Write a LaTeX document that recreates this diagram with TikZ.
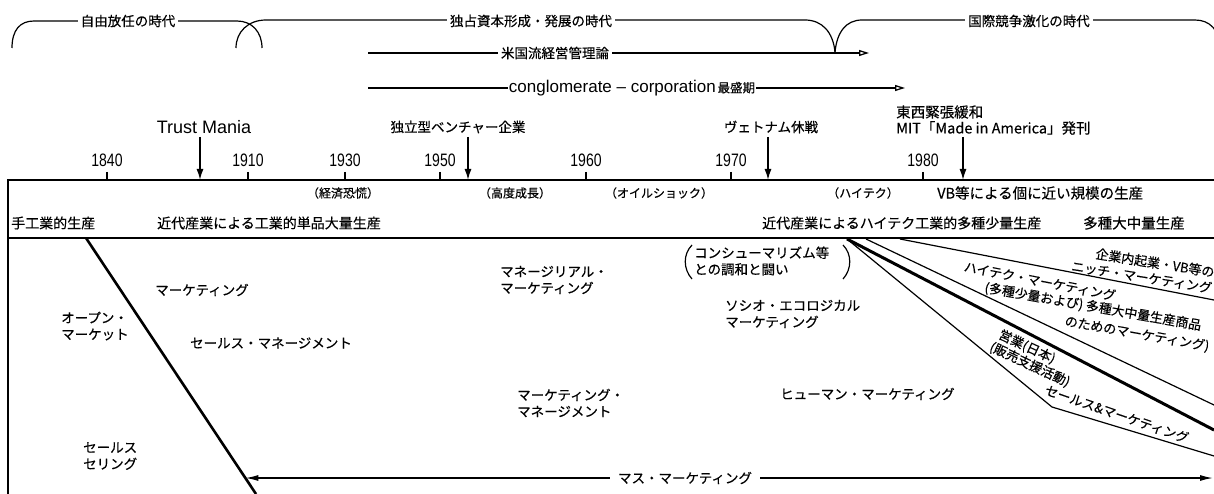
\documentclass[tikz,border=0pt]{standalone}
\usepackage{fontspec}
\setmainfont{Noto Sans CJK JP}[FakeBold=0.35]
\newfontfamily\lat{Liberation Sans}
\newfontfamily\latc[FakeStretch=0.78]{Liberation Sans}
\usetikzlibrary{arrows.meta,calc}
\tikzset{
  lbl/.style={font=\fontsize{13.5}{16.5}\selectfont, inner sep=1pt, align=left},
  fanl/.style={font=\fontsize{13}{15.5}\selectfont, inner sep=0.5pt, align=left},
  sml/.style={font=\fontsize{12}{14}\selectfont, inner sep=1pt},
  yr/.style={font=\latc\fontsize{18}{20}\selectfont, inner sep=0pt},
  gap/.style={fill=white, inner xsep=3pt, inner ysep=1pt},
  thinln/.style={line width=1.2pt},
  midln/.style={line width=1.5pt},
  heavyln/.style={line width=2.6pt},
  evarrow/.style={line width=1.5pt, -{Latex[length=11pt,width=7pt]}},
  toparrow/.style={line width=1.4pt, -{Triangle[open,length=10pt,width=6pt,line width=1.3pt]}},
  mmarrow/.style={line width=1.4pt, {Latex[length=13pt,width=6pt]}-{Latex[length=13pt,width=6pt]}},
}
\begin{document}
\begin{tikzpicture}[x=1pt,y=-1pt]
\path[use as bounding box, clip] (0,0) rectangle (1214,494);
\fill[white] (0,0) rectangle (1214,494);

% ---------- era braces ----------
\draw[thinln] (12,48) .. controls (12,30) and (20,21) .. (34,21) -- (237,21)
      .. controls (252,21) and (262,32) .. (262,48);
\draw[thinln] (236,48) .. controls (236,32) and (248,20) .. (266,20) -- (805,20)
      .. controls (822,20) and (833,32) .. (835,52);
\draw[thinln] (835,52) .. controls (837,32) and (846,20) .. (862,20) -- (1195,20)
      .. controls (1210,20) and (1219,30) .. (1221,48);
\node[lbl,gap] (era1) at (128,21) {自由放任の時代};
\node[lbl,gap] (era2) at (531,21) {独占資本形成・発展の時代};
\node[lbl,gap] (era3) at (1029,21) {国際競争激化の時代};

% ---------- long arrows ----------
\coordinate (us1) at (368,53);
\coordinate (us2) at (869,53);
\draw[toparrow] (us1) -- (us2);
\node[lbl,gap] (usl) at (555,53) {米国流経営管理論};
\coordinate (cg1) at (368,88);
\coordinate (cg2) at (905,88);
\draw[toparrow] (cg1) -- (cg2);
\node[gap, inner sep=1pt] (cgl) at (632,88)
  {{\lat\fontsize{17}{20}\selectfont conglomerate – corporation}\,{\fontsize{12.5}{14}\selectfont 最盛期}};

% ---------- timeline ----------
\coordinate (tlL) at (8,180);
\coordinate (tlR) at (1214,180);
\coordinate (bot) at (8,494);
\draw[midln] (bot) -- (tlL) -- (tlR);
\foreach \x/\y in {107/1840,248/1910,345/1930,440/1950,586/1960,731/1970,923/1980}{
  \draw[midln] (\x,172) -- (\x,180);
  \node[yr] at (\x,160) {\y};
}

% events
\node[inner sep=1pt, font=\lat\fontsize{18}{20}\selectfont] (tm) at (204,127) {Trust Mania};
\coordinate (tmx) at (200,180);
\draw[evarrow] (tmx |- 0,137) -- (tmx);
\node[lbl] (vc) at (458,127) {独立型ベンチャー企業};
\coordinate (vcx) at (468,180);
\draw[evarrow] (vcx |- 0,137) -- (vcx);
\node[lbl] (vn) at (771,127) {ヴェトナム休戦};
\coordinate (vnx) at (768,180);
\draw[evarrow] (vnx |- 0,137) -- (vnx);
\node[font=\fontsize{14.5}{16}\selectfont, inner sep=1pt, align=left, anchor=west] (mit) at (895,120)
  {東西緊張緩和\\MIT「Made in America」発刊};
\coordinate (mitx) at (963,180);
\draw[evarrow] (mitx |- 0,137) -- (mitx);

% parenthetical labels
\node[sml] (p1) at (343,193) {（経済恐慌）};
\node[sml] (p2) at (515,193) {（高度成長）};
\node[sml] (p3) at (659,193) {（オイルショック）};
\node[sml] (p4) at (863,193) {（ハイテク）};
\node[lbl, font=\fontsize{14.5}{16}\selectfont, anchor=west] (vb) at (936,193) {VB等による個に近い規模の生産};

% production row
\node[lbl, font=\fontsize{14}{16}\selectfont, anchor=west] (r1) at (10,223) {手工業的生産};
\node[lbl, font=\fontsize{14}{16}\selectfont, anchor=west] (r2) at (156,223) {近代産業による工業的単品大量生産};
\node[lbl, font=\fontsize{14}{16}\selectfont, anchor=west] (r3) at (761,223) {近代産業によるハイテク工業的多種少量生産};
\node[lbl, font=\fontsize{14.5}{16}\selectfont, anchor=west] (r4) at (1082,223) {多種大中量生産};

% thick base line
\coordinate (hL) at (8,238);
\coordinate (hR) at (1214,238);
\draw[heavyln] (hL) -- (hR);

% diagonal
\coordinate (d1) at (86,238);
\coordinate (d2) at (256,494);
\draw[heavyln] (d1) -- (d2);

% mass marketing
\coordinate (mmL) at ($(d1)!0.9375!(d2)$);
\coordinate (mmR) at (1213,478);
\draw[mmarrow] (mmL) -- (mmR);
\node[lbl,gap, inner xsep=8pt] (mm) at (685,478) {マス・マーケティング};

% fan on the right
\coordinate (f0) at (847,239);
\coordinate (f1s) at (900,239);
\coordinate (f1e) at (1214,300);
\coordinate (f2s) at (866,239);
\coordinate (f2e) at (1214,405);
\coordinate (f3e) at (1214,430);
\coordinate (f4b) at (1052,407);
\coordinate (f4e) at (1214,456);
\draw[thinln] (f1s) -- (f1e);
\draw[thinln] (f2s) -- (f2e);
\draw[line width=3pt] (f0) -- (f3e);
\draw[thinln] (f0) -- (f4b) -- (f4e);

% left region labels
\node[lbl, anchor=west] (om) at (60,326) {オープン・\\マーケット};
\node[lbl] (mk) at (202,290) {マーケティング};
\node[lbl] (sm) at (271,343) {セールス・マネージメント};
\node[lbl, anchor=west] (ss) at (82,456) {セールス\\セリング};

% middle labels
\node[lbl, anchor=west] (mgm) at (499,280) {マネージリアル・\\マーケティング};
\node[lbl, anchor=west] (mm2) at (516,403) {マーケティング・\\マネージメント};
\node[lbl, anchor=west] (cs) at (693,261) {コンシューマリズム等\\との調和と闘い};
\draw[thinln] (692,245) .. controls (683,254) and (683,269) .. (692,279);
\draw[thinln] (843,245) .. controls (852,254) and (852,269) .. (843,279);
\node[lbl, anchor=west] (se) at (724,314) {ソシオ・エコロジカル\\マーケティング};
\node[lbl, anchor=west] (hm) at (779,394) {ヒューマン・マーケティング};

% fan labels
\node[fanl, align=right, rotate=-9, font=\fontsize{13}{16}\selectfont] (nm) at (1143,269)
  {企業内起業・VB等の\\ニッチ・マーケティング};
\node[fanl, rotate=-11] (h1) at (1040,281) {ハイテク・マーケティング};
\node[fanl, rotate=-10] (h2) at (1093,307) {(多種少量および) 多種大中量生産商品};
\node[fanl, rotate=-10] (h3) at (1137,334) {のためのマーケティング)};
\node[fanl, rotate=-25, font=\fontsize{13}{15}\selectfont] (ej) at (1033,358) {\ 営業(日本)\\(販売支援活動)};
\node[fanl, rotate=-19] (sa) at (1117,414) {セールス\&マーケティング};
\end{tikzpicture}
\end{document}
